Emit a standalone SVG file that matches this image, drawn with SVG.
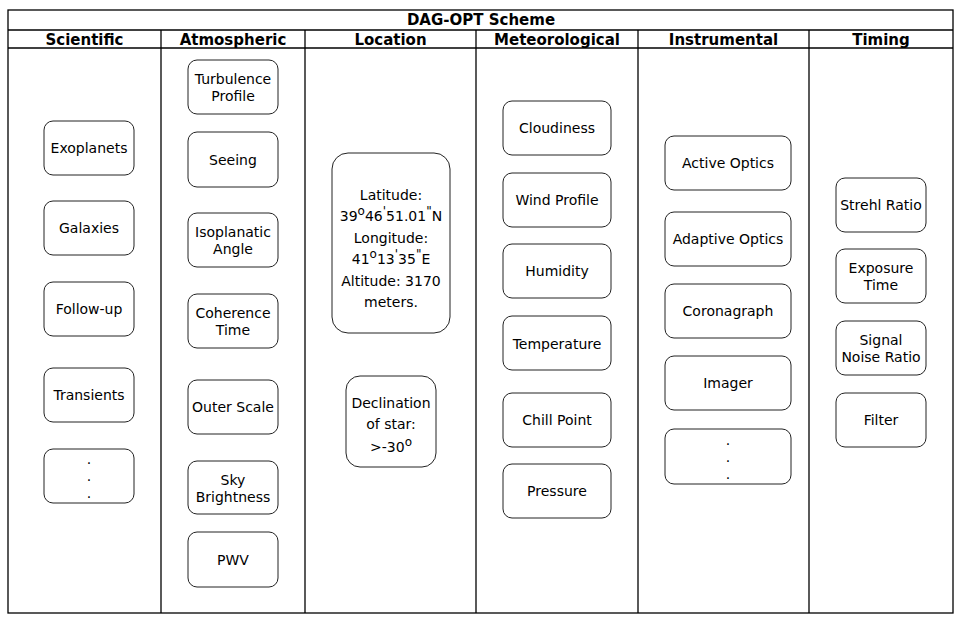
<svg xmlns="http://www.w3.org/2000/svg" width="962" height="626" viewBox="0 0 962 626">
<style>
.frame{fill:none;stroke:#000;stroke-width:1.3}
.node rect{fill:#fff;stroke:#222;stroke-width:1}
text{font-family:"DejaVu Sans",Verdana,sans-serif;font-size:14px;fill:#000;text-anchor:middle}
.hd{font-weight:bold;font-size:15px}
.sup{font-size:12px}
</style>
<rect width="962" height="626" fill="#fff"/>
<g id="table">
<rect class="frame" x="8" y="10" width="945" height="603"/>
<line class="frame" x1="8" y1="30" x2="953" y2="30"/>
<line class="frame" x1="8" y1="48" x2="953" y2="48"/>
<line class="frame" x1="161" y1="30" x2="161" y2="613"/>
<line class="frame" x1="305" y1="30" x2="305" y2="613"/>
<line class="frame" x1="476" y1="30" x2="476" y2="613"/>
<line class="frame" x1="638" y1="30" x2="638" y2="613"/>
<line class="frame" x1="809" y1="30" x2="809" y2="613"/>
<text class="hd" x="481" y="25">DAG-OPT Scheme</text>
<text class="hd" x="84.5" y="45">Scientific</text>
<text class="hd" x="233" y="45">Atmospheric</text>
<text class="hd" x="390.5" y="45">Location</text>
<text class="hd" x="557" y="45">Meteorological</text>
<text class="hd" x="723.5" y="45">Instrumental</text>
<text class="hd" x="881" y="45">Timing</text>
</g>
<g id="connectors"></g>
<!-- Scientific -->
<g id="exoplanets" class="node"><rect x="44" y="121" width="90" height="54" rx="9"/><text x="89" y="153">Exoplanets</text></g>
<g id="galaxies" class="node"><rect x="44" y="201" width="90" height="54" rx="9"/><text x="89" y="233">Galaxies</text></g>
<g id="followup" class="node"><rect x="44" y="282" width="90" height="54" rx="9"/><text x="89" y="314">Follow-up</text></g>
<g id="transients" class="node"><rect x="44" y="368" width="90" height="54" rx="9"/><text x="89" y="400">Transients</text></g>
<g id="sci-more" class="node"><rect x="44" y="449" width="90" height="54" rx="9"/><text x="89" y="464">.</text><text x="89" y="481">.</text><text x="89" y="498">.</text></g>
<!-- Atmospheric -->
<g id="turbulence" class="node"><rect x="188" y="60" width="90" height="54" rx="9"/><text x="233" y="84">Turbulence</text><text x="233" y="101">Profile</text></g>
<g id="seeing" class="node"><rect x="188" y="132" width="90" height="55" rx="9"/><text x="233" y="165">Seeing</text></g>
<g id="isoplanatic" class="node"><rect x="188" y="213" width="90" height="54" rx="9"/><text x="233" y="237">Isoplanatic</text><text x="233" y="254">Angle</text></g>
<g id="coherence" class="node"><rect x="188" y="294" width="90" height="54" rx="9"/><text x="233" y="318">Coherence</text><text x="233" y="335">Time</text></g>
<g id="outerscale" class="node"><rect x="188" y="380" width="90" height="54" rx="9"/><text x="233" y="412">Outer Scale</text></g>
<g id="skybrightness" class="node"><rect x="188" y="461" width="90" height="53" rx="9"/><text x="233" y="485">Sky</text><text x="233" y="502">Brightness</text></g>
<g id="pwv" class="node"><rect x="188" y="532" width="90" height="55" rx="9"/><text x="233" y="565">PWV</text></g>
<!-- Location -->
<g id="coords" class="node"><rect x="332" y="153" width="118" height="180" rx="16"/>
<text x="391" y="200">Latitude:</text>
<text x="391" y="221">39<tspan class="sup" dy="-6">o</tspan><tspan dy="6">46</tspan><tspan class="sup" dy="-6">'</tspan><tspan dy="6">51.01</tspan><tspan class="sup" dy="-6">"</tspan><tspan dy="6">N</tspan></text>
<text x="391" y="243">Longitude:</text>
<text x="391" y="264">41<tspan class="sup" dy="-6">o</tspan><tspan dy="6">13</tspan><tspan class="sup" dy="-6">'</tspan><tspan dy="6">35</tspan><tspan class="sup" dy="-6">"</tspan><tspan dy="6">E</tspan></text>
<text x="391" y="286">Altitude: 3170</text>
<text x="391" y="307">meters.</text>
</g>
<g id="declination" class="node"><rect x="346" y="376" width="90" height="91" rx="14"/>
<text x="391" y="408">Declination</text>
<text x="391" y="429">of star:</text>
<text x="391" y="452">&gt;-30<tspan class="sup" dy="-6">o</tspan></text>
</g>
<!-- Meteorological -->
<g id="cloudiness" class="node"><rect x="503" y="101" width="108" height="54" rx="9"/><text x="557" y="133">Cloudiness</text></g>
<g id="windprofile" class="node"><rect x="503" y="173" width="108" height="54" rx="9"/><text x="557" y="205">Wind Profile</text></g>
<g id="humidity" class="node"><rect x="503" y="244" width="108" height="54" rx="9"/><text x="557" y="276">Humidity</text></g>
<g id="temperature" class="node"><rect x="503" y="316" width="108" height="54" rx="9"/><text x="557" y="349">Temperature</text></g>
<g id="chillpoint" class="node"><rect x="503" y="393" width="108" height="54" rx="9"/><text x="557" y="425">Chill Point</text></g>
<g id="pressure" class="node"><rect x="503" y="464" width="108" height="54" rx="9"/><text x="557" y="496">Pressure</text></g>
<!-- Instrumental -->
<g id="activeoptics" class="node"><rect x="665" y="136" width="126" height="54" rx="9"/><text x="728" y="168">Active Optics</text></g>
<g id="adaptiveoptics" class="node"><rect x="665" y="212" width="126" height="54" rx="9"/><text x="728" y="244">Adaptive Optics</text></g>
<g id="coronagraph" class="node"><rect x="665" y="284" width="126" height="54" rx="9"/><text x="728" y="316">Coronagraph</text></g>
<g id="imager" class="node"><rect x="665" y="356" width="126" height="54" rx="9"/><text x="728" y="388">Imager</text></g>
<g id="inst-more" class="node"><rect x="665" y="429" width="126" height="55" rx="9"/><text x="728" y="445">.</text><text x="728" y="462">.</text><text x="728" y="479">.</text></g>
<!-- Timing -->
<g id="strehl" class="node"><rect x="836" y="178" width="90" height="54" rx="9"/><text x="881" y="210">Strehl Ratio</text></g>
<g id="exposure" class="node"><rect x="836" y="249" width="90" height="54" rx="9"/><text x="881" y="273">Exposure</text><text x="881" y="290">Time</text></g>
<g id="snr" class="node"><rect x="836" y="321" width="90" height="54" rx="9"/><text x="881" y="345">Signal</text><text x="881" y="362">Noise Ratio</text></g>
<g id="filter" class="node"><rect x="836" y="393" width="90" height="54" rx="9"/><text x="881" y="425">Filter</text></g>
</svg>
